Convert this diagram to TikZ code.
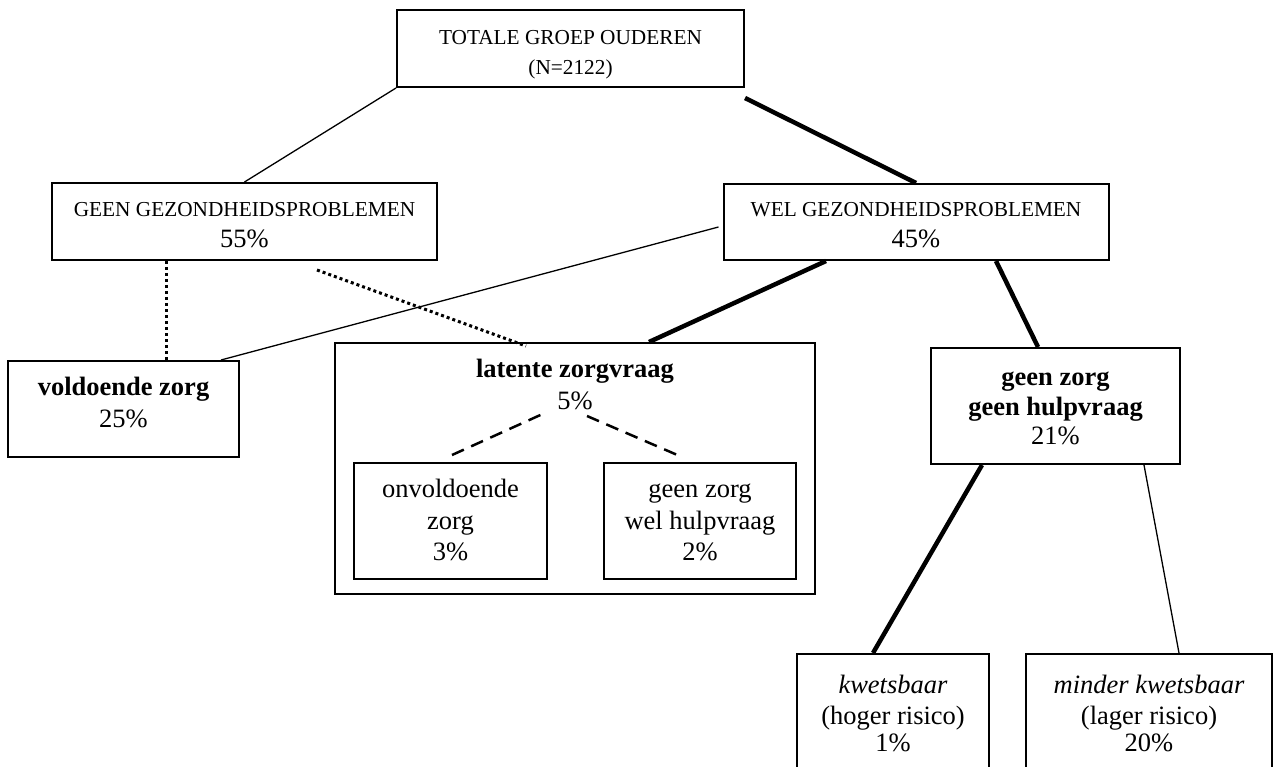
\documentclass[tikz,border=0pt]{standalone}
\usepackage{fontspec}
\setmainfont{Liberation Serif}
\newcommand\capsz{\fontsize{21.3}{25}\selectfont}
\newcommand\bodysz{\fontsize{26.5}{30}\selectfont}
\tikzset{
  box/.style={draw, line width=2pt, inner sep=0pt},
  txt/.style={anchor=base, inner sep=0pt},
  capt/.style={txt, font=\capsz},
  bodyt/.style={txt, font=\bodysz},
  thinline/.style={line width=1.3pt},
  thickline/.style={line width=4.5pt},
  dotline/.style={line width=3pt, dash pattern=on 3pt off 3pt},
  dashline/.style={line width=2.5pt, dash pattern=on 13pt off 8pt},
}
\begin{document}
\begin{tikzpicture}[x=1pt,y=-1pt]
\useasboundingbox (0,0) rectangle (1274,767);
\clip (0,0) rectangle (1274,767);
\fill[white] (0,0) rectangle (1274,767);
% boxes
\node[box, minimum width=347pt, minimum height=77pt] (top) at (570.5,48.5) {};
\node[box, minimum width=385pt, minimum height=77pt] (geen) at (244.5,221.5) {};
\node[box, minimum width=385pt, minimum height=76pt] (wel) at (916,222) {};
\node[box, minimum width=231pt, minimum height=96pt] (vold) at (123.5,409) {};
\node[box, minimum width=480pt, minimum height=251pt] (lat) at (575,468.5) {};
\node[box, minimum width=193pt, minimum height=116pt] (onv) at (450.5,521) {};
\node[box, minimum width=192pt, minimum height=116pt] (gzwh) at (700,521) {};
\node[box, minimum width=249pt, minimum height=116pt] (gzgh) at (1055.5,406) {};
\node[box, minimum width=192pt, minimum height=130pt] (kw) at (893,719) {};
\node[box, minimum width=246pt, minimum height=130pt] (mkw) at (1149,719) {};
% texts
\node[capt] (top1) at (570.5,45) {TOTALE GROEP OUDEREN};
\node[capt] (top2) at (570.5,75) {(N=2122)};
\node[capt] (geen1) at (244.5,217) {GEEN GEZONDHEIDSPROBLEMEN};
\node[bodyt] (geen2) at (244.5,248) {55\%};
\node[capt] (wel1) at (916,217) {WEL GEZONDHEIDSPROBLEMEN};
\node[bodyt] (wel2) at (916,248) {45\%};
\node[bodyt] (vold1) at (123.5,395) {\bfseries voldoende zorg};
\node[bodyt] (vold2) at (123.5,427) {25\%};
\node[bodyt] (lat1) at (575,377) {\bfseries latente zorgvraag};
\node[bodyt] (lat2) at (575,409) {5\%};
\node[bodyt] (onv1) at (450.5,497) {onvoldoende};
\node[bodyt] (onv2) at (450.5,529) {zorg};
\node[bodyt] (onv3) at (450.5,560) {3\%};
\node[bodyt] (gzwh1) at (700,497) {geen zorg};
\node[bodyt] (gzwh2) at (700,529) {wel hulpvraag};
\node[bodyt] (gzwh3) at (700,560) {2\%};
\node[bodyt] (gzgh1) at (1055.5,385) {\bfseries geen zorg};
\node[bodyt] (gzgh2) at (1055.5,415) {\bfseries geen hulpvraag};
\node[bodyt] (gzgh3) at (1055.5,444) {21\%};
\node[bodyt] (kw1) at (893,693) {\itshape kwetsbaar};
\node[bodyt] (kw2) at (893,724) {(hoger risico)};
\node[bodyt] (kw3) at (893,751) {1\%};
\node[bodyt] (mkw1) at (1149,693) {\itshape minder kwetsbaar};
\node[bodyt] (mkw2) at (1149,724) {(lager risico)};
\node[bodyt] (mkw3) at (1149,751) {20\%};
% connectors
\draw[thinline] (top.south west) -- (geen.north);
\draw[thickline] ([yshift=-10pt]top.south east) -- (wel.north);
\draw[dotline] ([xshift=115pt]geen.south west) -- ([xshift=115pt]geen.south west |- vold.north);
\draw[dotline] ([xshift=-121pt,yshift=-9pt]geen.south east) -- ([xshift=192pt,yshift=-4pt]lat.north west);
\draw[thinline] ([xshift=-4pt,yshift=-5pt]wel.west) -- ([xshift=-19pt]vold.north east);
\draw[thickline] ([xshift=103.5pt]wel.south west) -- ([xshift=315pt]lat.north west);
\draw[thickline] ([xshift=-113.5pt]wel.south east) -- ([xshift=-17.5pt]gzgh.north);
\draw[thickline] ([xshift=52pt]gzgh.south west) -- ([xshift=-20pt]kw.north);
\draw[thinline] ([xshift=-37pt]gzgh.south east) -- ([xshift=30pt]mkw.north);
\draw[dashline] ([xshift=1.5pt,yshift=7pt]onv.north) -- ([xshift=-28pt,yshift=-3pt]lat2.base);
\draw[dashline] ([xshift=12pt,yshift=-7pt]lat2.base) -- ([xshift=-18pt,yshift=5pt]gzwh.north);
\end{tikzpicture}
\end{document}
